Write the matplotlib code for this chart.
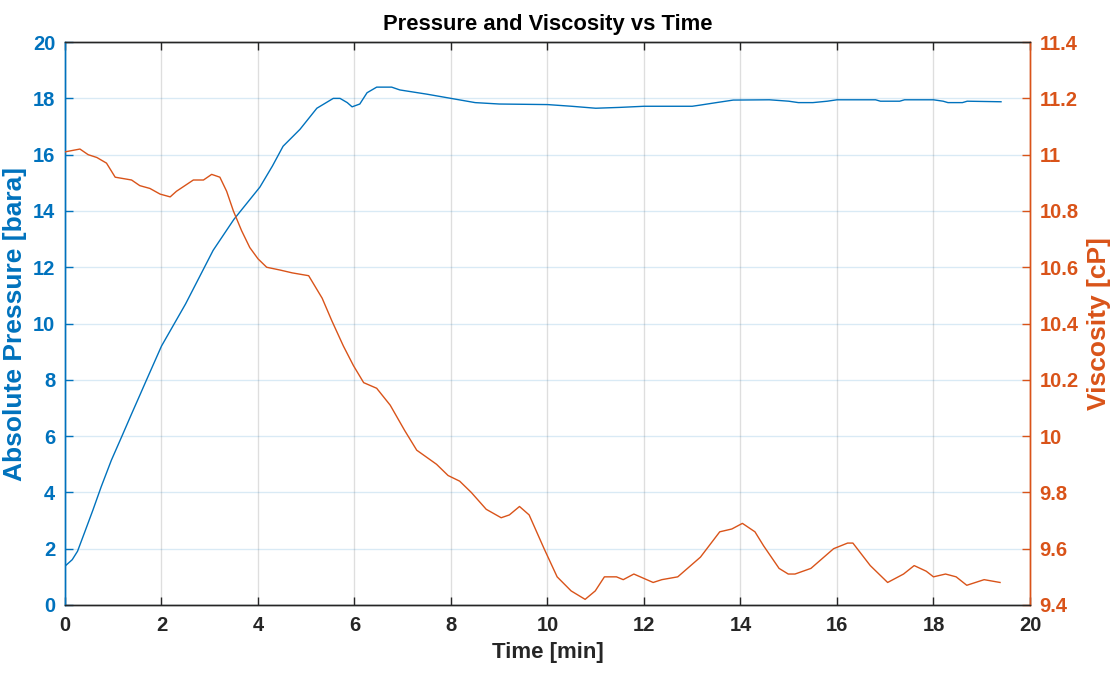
import numpy as np
import matplotlib
matplotlib.use('Agg')
import matplotlib.pyplot as plt

plt.rcParams['font.family'] = ['Liberation Sans', 'DejaVu Sans']

# --- data ---
t_pres = [0, 0.15, 0.26, 0.40, 0.58, 0.75, 0.96, 1.17, 1.38, 1.56, 1.68, 2.0, 2.5,
          3.07, 3.5, 4.04, 4.3, 4.52, 4.87, 5.22, 5.56, 5.7, 5.85, 5.95, 6.11, 6.26,
          6.46, 6.77, 6.94, 7.5, 8.0, 8.5, 9.0, 10.0, 10.5, 11.0, 11.5, 12.0, 13.0,
          13.16, 13.5, 13.85, 14.6, 15.0, 15.2, 15.5, 15.8, 16.0, 16.8, 16.9, 17.3,
          17.4, 18.0, 18.2, 18.3, 18.6, 18.7, 19.4]
pressure = [1.38, 1.61, 1.91, 2.55, 3.38, 4.2, 5.14, 5.96, 6.79, 7.49, 7.96, 9.2, 10.7,
            12.6, 13.7, 14.85, 15.6, 16.3, 16.9, 17.65, 18.0, 18.0, 17.85, 17.7, 17.8, 18.2,
            18.4, 18.4, 18.3, 18.15, 18.0, 17.85, 17.8, 17.78, 17.72, 17.65, 17.68, 17.72, 17.72,
            17.76, 17.85, 17.94, 17.95, 17.9, 17.85, 17.85, 17.9, 17.95, 17.95, 17.9, 17.9,
            17.95, 17.95, 17.9, 17.85, 17.85, 17.9, 17.88]

t_visc = [0, 0.31, 0.48, 0.66, 0.86, 1.04, 1.38, 1.55, 1.76, 1.97, 2.18, 2.31, 2.66, 2.87,
          3.04, 3.21, 3.35, 3.49, 3.66, 3.83, 4.0, 4.18, 4.46, 4.71, 5.05, 5.33, 5.53, 5.77,
          5.98, 6.19, 6.46, 6.74, 7.04, 7.29, 7.70, 7.94, 8.18, 8.42, 8.73, 9.04, 9.21, 9.42,
          9.62, 9.93, 10.20, 10.49, 10.78, 10.99, 11.18, 11.43, 11.57, 11.79, 12.19, 12.37,
          12.70, 13.17, 13.57, 13.82, 14.04, 14.30, 14.48, 14.80, 14.99, 15.13, 15.46, 15.93,
          16.22, 16.33, 16.69, 17.05, 17.38, 17.60, 17.85, 18.0, 18.25, 18.47, 18.69, 19.05, 19.38]
viscosity = [11.01, 11.02, 11.0, 10.99, 10.97, 10.92, 10.91, 10.89, 10.88, 10.86, 10.85, 10.87,
             10.91, 10.91, 10.93, 10.92, 10.87, 10.80, 10.73, 10.67, 10.63, 10.60, 10.59, 10.58,
             10.57, 10.49, 10.41, 10.32, 10.25, 10.19, 10.17, 10.11, 10.02, 9.95, 9.90, 9.86,
             9.84, 9.80, 9.74, 9.71, 9.72, 9.75, 9.72, 9.60, 9.50, 9.45, 9.42, 9.45, 9.50, 9.50,
             9.49, 9.51, 9.48, 9.49, 9.50, 9.57, 9.66, 9.67, 9.69, 9.66, 9.61, 9.53, 9.51, 9.51,
             9.53, 9.60, 9.62, 9.62, 9.54, 9.48, 9.51, 9.54, 9.52, 9.50, 9.51, 9.50, 9.47, 9.49, 9.48]

x_ticks = np.arange(0, 21, 2)
p_ticks = np.arange(0, 21, 2)
v_ticks = [9.4, 9.6, 9.8, 10, 10.2, 10.4, 10.6, 10.8, 11, 11.2, 11.4]
v_ticklabels = ['9.4', '9.6', '9.8', '10', '10.2', '10.4', '10.6', '10.8', '11', '11.2', '11.4']

blue = '#0072BD'
orange = '#D95319'
dark = '#262626'

fig = plt.figure(figsize=(11.13, 6.79), dpi=100)
ax = fig.add_axes([0.0584, 0.109, 0.867, 0.829])
ax2 = ax.twinx()

ax.plot(t_pres, pressure, color=blue, lw=1.0, zorder=3)
ax2.plot(t_visc, viscosity, color=orange, lw=1.0, zorder=3)

ax.set_xlim(0, 20)
ax.set_ylim(0, 20)
ax2.set_ylim(9.4, 11.4)
ax.set_xticks(x_ticks)
ax.set_yticks(p_ticks)
ax2.set_yticks(v_ticks)
ax2.set_yticklabels(v_ticklabels)

# grid: vertical gray, horizontal light blue (MATLAB yyaxis style)
ax.grid(axis='x', color=dark, alpha=0.15, lw=1.0)
ax.grid(axis='y', color=blue, alpha=0.15, lw=1.0)
ax.set_axisbelow(True)

for a in (ax, ax2):
    a.spines['top'].set_color(dark)
    a.spines['bottom'].set_color(dark)
    a.spines['left'].set_color(blue)
    a.spines['right'].set_color(orange)
    for s in a.spines.values():
        s.set_linewidth(1.0)

ax.tick_params(axis='x', direction='in', length=6, width=1, color=dark, top=True,
               labelsize=14.5, labelcolor=dark, pad=8)
ax.tick_params(axis='y', direction='in', length=6, width=1, color=blue,
               labelsize=14.5, labelcolor=blue, pad=7)
ax2.tick_params(axis='y', direction='in', length=6, width=1, color=orange,
                labelsize=14.5, labelcolor=orange, pad=7)

for lab in ax.get_xticklabels() + ax.get_yticklabels() + ax2.get_yticklabels():
    lab.set_fontweight('bold')

ax.set_xlabel('Time [min]', fontsize=16, fontweight='bold', color=dark, labelpad=5)
ax.set_ylabel('Absolute Pressure [bara]', fontsize=19, fontweight='bold', color=blue, labelpad=4)
ax2.set_ylabel('Viscosity [cP]', fontsize=19, fontweight='bold', color=orange, labelpad=6)
ax.set_title('Pressure and Viscosity vs Time', fontsize=15.8, fontweight='bold', color='black', pad=9)

fig.savefig('out.png', dpi=100)
